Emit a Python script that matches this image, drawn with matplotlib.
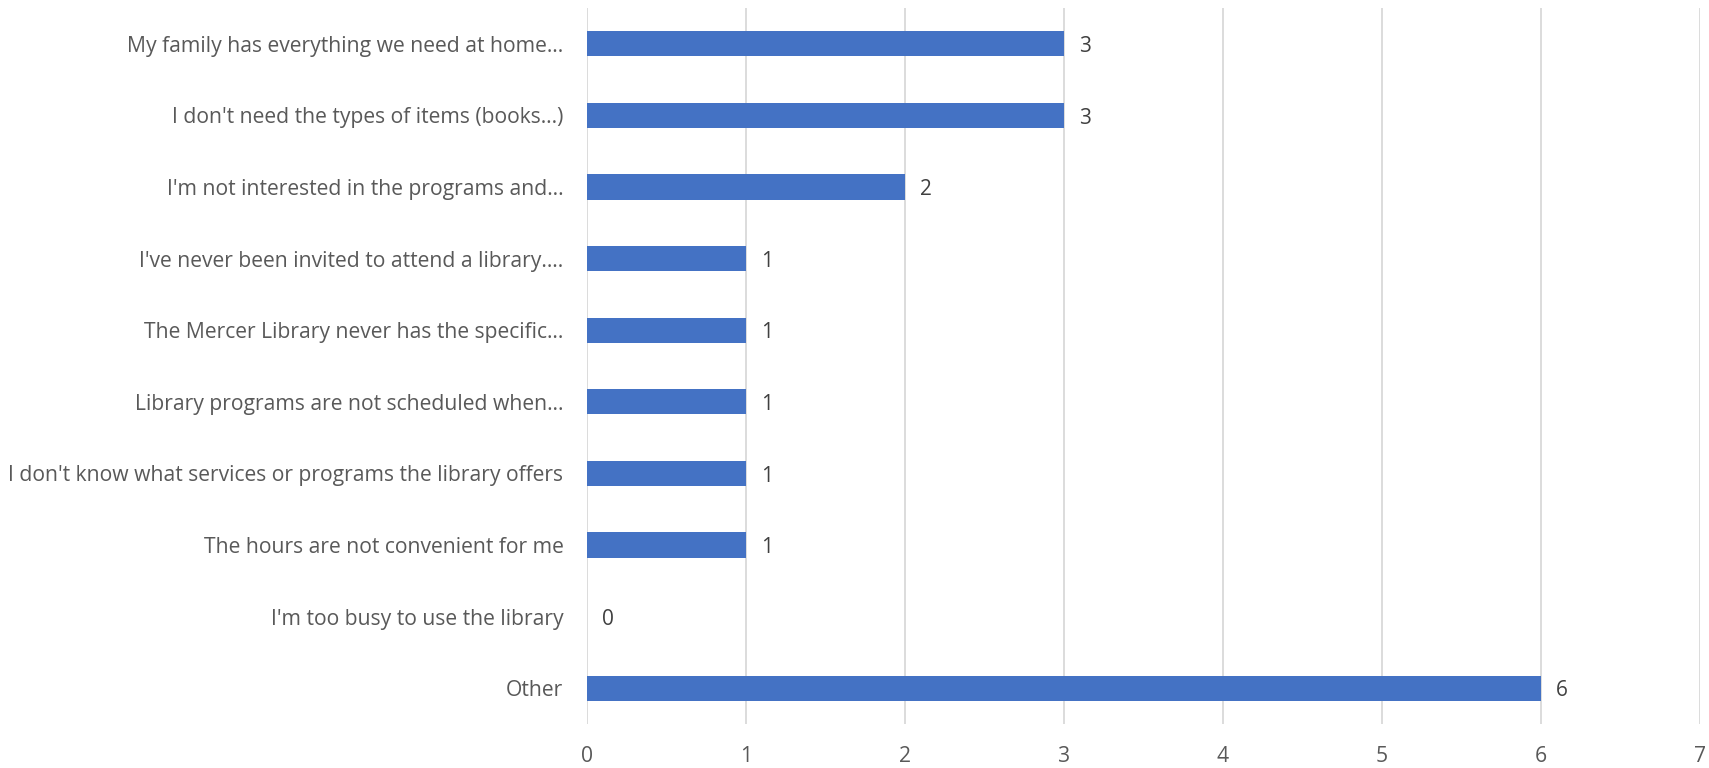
import matplotlib
matplotlib.use("Agg")
import matplotlib.pyplot as plt

categories = [
    "My family has everything we need at home…",
    "I don't need the types of items (books…)",
    "I'm not interested in the programs and…",
    "I've never been invited to attend a library.…",
    "The Mercer Library never has the specific…",
    "Library programs are not scheduled when…",
    "I don't know what services or programs the library offers",
    "The hours are not convenient for me",
    "I'm too busy to use the library",
    "Other",
]
counts = [3, 3, 2, 1, 1, 1, 1, 1, 0, 6]
x_ticks = [0, 1, 2, 3, 4, 5, 6, 7]

plt.rcParams["font.family"] = ["Open Sans", "DejaVu Sans"]

W, H, DPI = 1709, 768, 100
fig = plt.figure(figsize=(W / DPI, H / DPI), dpi=DPI)
ax = fig.add_axes([587 / W, 1 - 724 / H, (1700 - 587) / W, (724 - 8) / H])

ypos = list(range(len(categories)))
ax.barh(ypos, counts, height=0.35, color="#4472C4", zorder=3)
ax.set_ylim(len(categories) - 0.5, -0.5)
ax.set_xlim(0, 7)
ax.set_xticks(x_ticks)
ax.set_xticklabels([str(t) for t in x_ticks])
ax.set_yticks(ypos)
ax.set_yticklabels(categories)

ax.grid(axis="x", color="#D9D9D9", linewidth=1.3, zorder=0)
for s in ax.spines.values():
    s.set_visible(False)
ax.tick_params(axis="both", length=0, colors="#595959", labelsize=15.2)
ax.tick_params(axis="y", pad=17)
ax.tick_params(axis="x", pad=16)

# value labels just past the end of each bar
for y, v in zip(ypos, counts):
    ax.annotate(str(v), xy=(v, y), xytext=(11, -2), textcoords="offset points",
                va="center", ha="left", fontsize=15, color="#404040")

fig.savefig("out.png", dpi=DPI, facecolor="white")
